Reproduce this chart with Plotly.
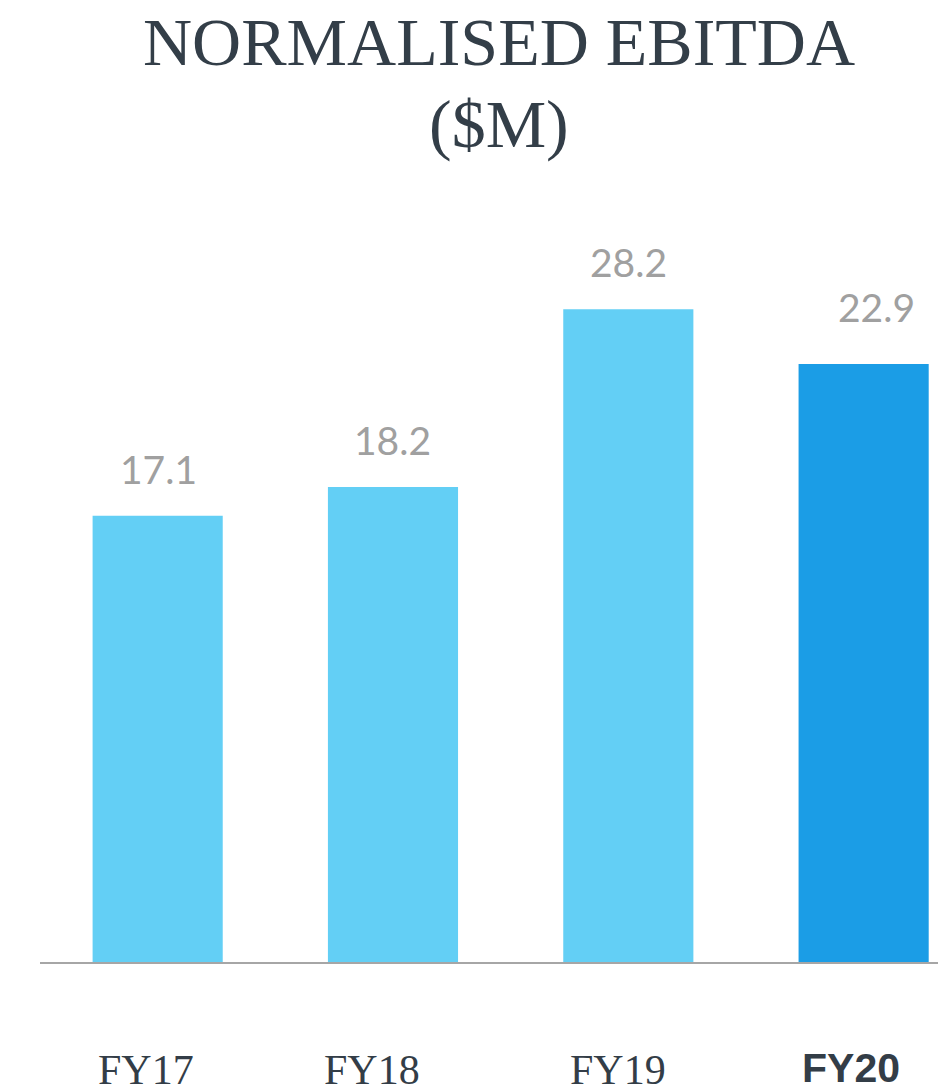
import plotly.graph_objects as go

# ---- data ----
categories = ["FY17", "FY18", "FY19", "FY20"]
bar_heights = [17.1, 18.2, 25.0, 22.9]          # bar heights as drawn in the picture
value_labels = ["17.1", "18.2", "28.2", "22.9"]  # printed data labels
title_lines = ["NORMALISED EBITDA", "($M)"]

# ---- styling ----
light = "#63cff5"
dark = "#1b9de6"
bar_colors = [light, light, light, dark]
label_shift = [(1, 47), (0, 47), (0, 47), (13, 57)]   # (x px, y px) offsets of value labels
tick_shift = [(-12, -107), (-21, -107), (-10, -107), (-13, -105)]
title_shift = [138, 56]

x_pos = list(range(len(categories)))

fig = go.Figure()
fig.add_trace(go.Bar(
    x=x_pos, y=bar_heights, marker=dict(color=bar_colors, line=dict(width=0)),
    width=0.553, hoverinfo="skip",
))

annotations = []
for i, line in enumerate(title_lines):
    annotations.append(dict(
        x=0.5, y=1, xref="paper", yref="paper", text=line, showarrow=False,
        xanchor="center", yanchor="middle", xshift=10, yshift=title_shift[i],
        font=dict(family="'Liberation Serif', 'Times New Roman', serif", size=68, color="#333e48"),
    ))

for i, (v, lab) in enumerate(zip(bar_heights, value_labels)):
    dx, dy = label_shift[i]
    annotations.append(dict(
        x=x_pos[i], y=v, xref="x", yref="y", text=lab, showarrow=False,
        xanchor="center", yanchor="middle", xshift=dx, yshift=dy,
        font=dict(family="Lato, 'Open Sans', sans-serif", size=39, color="#a0a0a0"),
    ))

for i, cat in enumerate(categories):
    last = i == len(categories) - 1
    dx, dy = tick_shift[i]
    annotations.append(dict(
        x=x_pos[i], y=0, xref="x", yref="paper", showarrow=False,
        text=("<b>%s</b>" % cat) if last else cat,
        xanchor="center", yanchor="middle", xshift=dx, yshift=dy,
        font=dict(
            family=("'Liberation Sans Narrow', 'Arial Narrow', 'Liberation Sans', Arial, sans-serif" if last
                    else "'Liberation Serif', 'Times New Roman', serif"),
            size=41 if last else 42,
            color="#333d47",
        ),
    ))

fig.update_layout(
    width=938, height=1092,
    margin=dict(l=40, r=0, t=180, b=129, pad=0),
    paper_bgcolor="white", plot_bgcolor="white",
    showlegend=False,
    xaxis=dict(
        range=[-0.5, 3.316], showgrid=False, zeroline=False, showticklabels=False,
        showline=False, ticks="", fixedrange=True,
    ),
    yaxis=dict(
        range=[0, 29.94], showgrid=False, zeroline=False, showticklabels=False,
        showline=False, ticks="", fixedrange=True,
    ),
    shapes=[dict(type="line", xref="paper", yref="paper", x0=0, x1=1, y0=0, y1=0,
                 line=dict(color="#a6a6a6", width=2), layer="above")],
    annotations=annotations,
)

fig.write_html(
    "out.html",
    config={"displayModeBar": False},
    post_script="document.body.style.margin='0';document.body.style.overflow='hidden';",
)
